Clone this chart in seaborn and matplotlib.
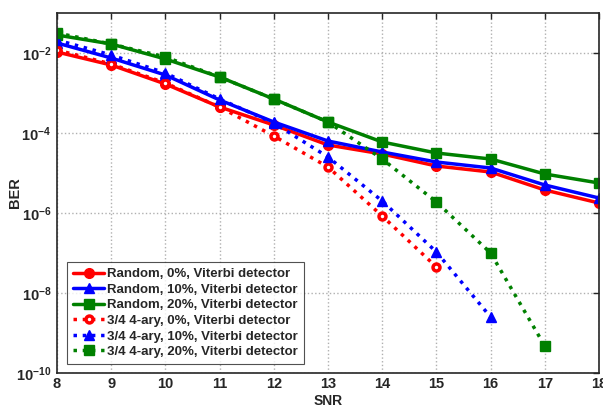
import numpy as np
import pandas as pd
import matplotlib
matplotlib.use("Agg")
import matplotlib.pyplot as plt
import seaborn as sns

snr = [8, 9, 10, 11, 12, 13, 14, 15, 16, 17, 18]

# exponents (log10 BER)
rand0 = [-1.975, -2.3, -2.775, -3.35, -3.8, -4.3, -4.525, -4.825, -4.975, -5.425, -5.75]
rand10 = [-1.75, -2.125, -2.55, -3.175, -3.725, -4.2, -4.475, -4.725, -4.875, -5.3, -5.625]
rand20 = [-1.55, -1.775, -2.15, -2.6, -3.15, -3.725, -4.225, -4.5, -4.65, -5.025, -5.25]
ary0 = [-1.925, -2.275, -2.75, -3.35, -4.075, -4.85, -6.075, -7.35]
ary10 = [-1.675, -2.05, -2.5, -3.15, -3.75, -4.6, -5.7, -6.975, -8.6]
ary20 = [-1.5, -1.775, -2.1, -2.6, -3.15, -3.725, -4.65, -5.725, -7.0, -9.325]

labels = ["Random, 0%, Viterbi detector", "Random, 10%, Viterbi detector",
          "Random, 20%, Viterbi detector", "3/4 4-ary, 0%, Viterbi detector",
          "3/4 4-ary, 10%, Viterbi detector", "3/4 4-ary, 20%, Viterbi detector"]

sns.set_theme(style="white")
plt.rcParams['font.family'] = ['Liberation Sans', 'DejaVu Sans']
plt.rcParams['font.weight'] = 'bold'
plt.rcParams['mathtext.fontset'] = 'custom'
plt.rcParams['mathtext.rm'] = 'Liberation Sans:bold'
plt.rcParams['mathtext.bf'] = 'Liberation Sans:bold'

fig = plt.figure(figsize=(6.03, 4.08), dpi=100)
ax = fig.add_axes([57/603, 1-373/408, (599-57)/603, (373-13)/408])

series = [
    (rand0, 'red', 'o', '-', False),
    (rand10, 'blue', '^', '-', False),
    (rand20, 'green', 's', '-', False),
    (ary0, 'red', 'o', ':', True),
    (ary10, 'blue', '^', ':', False),
    (ary20, 'green', 's', ':', False),
]
colmap = {'red': '#ff0000', 'blue': '#0000ff', 'green': '#008000'}

for (vals, c, m, ls, hollow), lab in zip(series, labels):
    df = pd.DataFrame({'SNR': snr[:len(vals)], 'BER': np.power(10.0, vals)})
    col = colmap[c]
    sns.lineplot(data=df, x='SNR', y='BER', ax=ax, color=col, marker=m,
                 linestyle=ls, linewidth=2.5,
                 markersize=5 if hollow else 7,
                 markerfacecolor='white' if hollow else col,
                 markeredgecolor=col, markeredgewidth=2.5 if hollow else 1,
                 label=lab, errorbar=None)

ax.set_yscale('log')
ax.set_xlim(8, 18)
ax.set_ylim(1e-10, 1e-1)
ax.set_xticks(range(8, 19))
ax.set_xticklabels([str(v) for v in range(8, 19)], fontsize=10.5, fontweight='bold')
yt = [1e-10, 1e-8, 1e-6, 1e-4, 1e-2]
ax.set_yticks(yt)
ax.set_yticklabels([r'$\mathbf{10^{%d}}$' % int(np.log10(v)) for v in yt], fontsize=10.5)
ax.yaxis.set_minor_locator(matplotlib.ticker.NullLocator())
ax.tick_params(axis='both', which='major', direction='in', length=4, width=1,
               top=True, right=True, colors='#262626', labelcolor='#262626', pad=4)
ax.tick_params(axis='x', pad=3)
ax.grid(True, which='major', linestyle=':', color='#b0b0b0', linewidth=1)
for s in ax.spines.values():
    s.set_color('#262626')
    s.set_linewidth(1.2)

ax.set_xlabel('SNR', fontsize=10, fontweight='bold', color='#262626')
ax.set_ylabel('BER', fontsize=10.5, fontweight='bold', color='#262626')
ax.xaxis.set_label_coords(0.5, -0.057)
ax.yaxis.set_label_coords(-0.065, 0.5)

leg = ax.legend(loc='lower left', bbox_to_anchor=(0.018, 0.025),
                prop={'weight': 'bold', 'size': 9.5}, frameon=True, fancybox=False,
                borderpad=0.45, labelspacing=0.25, handlelength=2.4, handletextpad=0.2,
                borderaxespad=0)
leg.get_frame().set_edgecolor('#262626')
leg.get_frame().set_linewidth(0.8)

fig.savefig('out.png', dpi=100)
